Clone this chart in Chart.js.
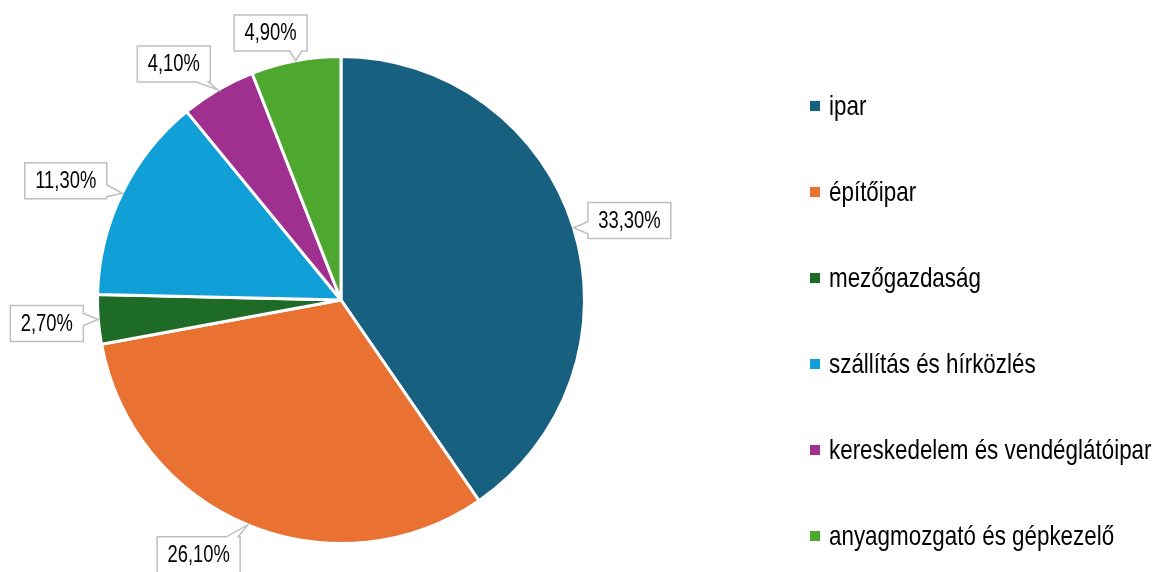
<!DOCTYPE html>
<html>
<head>
<meta charset="utf-8">
<script src="https://cdn.jsdelivr.net/npm/chart.js@4/dist/chart.umd.min.js"></script>
<style>
  body { margin: 0; background: #fff; }
</style>
</head>
<body>
<canvas id="grafikon" width="1161" height="572"></canvas>
<script>
const agazatok = ['ipar', 'építőipar', 'mezőgazdaság', 'szállítás és hírközlés', 'kereskedelem és vendéglátóipar', 'anyagmozgató és gépkezelő'];
const aranyok = [33.3, 26.1, 2.7, 11.3, 4.1, 4.9];
const szinek = ['#17607f', '#e97132', '#1e6b28', '#119fd8', '#a0308f', '#4ea72e'];

// cimkek elcsusztatasa (Excel-szeru elhelyezes)
const cimkeTolas = [[0, 10], [-36, -2], [0, 0], [-6, 12], [-26, 5], [-19, 5]];

const BETU = '"Liberation Sans", Arial, sans-serif';
const SZUKITES = 0.8; // keskeny betu utanzasa

const szazalek = v => v.toFixed(2).replace('.', ',') + '%';

function keskenySzoveg(ctx, szoveg, x, y) {
  ctx.save();
  ctx.translate(x, y);
  ctx.scale(SZUKITES, 1);
  ctx.fillText(szoveg, 0, 0);
  ctx.restore();
}

function buborek(ctx, l, t, r, b, oldal, p, tx, ty) {
  const n = 6;
  ctx.beginPath();
  ctx.moveTo(l, t);
  if (oldal === 'top') { ctx.lineTo(p - n, t); ctx.lineTo(tx, ty); ctx.lineTo(p + n, t); }
  ctx.lineTo(r, t);
  if (oldal === 'right') { ctx.lineTo(r, p - n); ctx.lineTo(tx, ty); ctx.lineTo(r, p + n); }
  ctx.lineTo(r, b);
  if (oldal === 'bottom') { ctx.lineTo(p + n, b); ctx.lineTo(tx, ty); ctx.lineTo(p - n, b); }
  ctx.lineTo(l, b);
  if (oldal === 'left') { ctx.lineTo(l, p + n); ctx.lineTo(tx, ty); ctx.lineTo(l, p - n); }
  ctx.closePath();
  ctx.fill();
  ctx.stroke();
}

const cimkePlugin = {
  id: 'cimkek',
  afterDatasetsDraw(chart) {
    const ctx = chart.ctx;
    const meta = chart.getDatasetMeta(0);
    ctx.save();
    ctx.font = '23px ' + BETU;
    ctx.textAlign = 'center';
    ctx.textBaseline = 'middle';
    ctx.lineWidth = 1.5;
    ctx.strokeStyle = '#bfbfbf';
    meta.data.forEach((arc, i) => {
      const { x, y, outerRadius, startAngle, endAngle } = arc.getProps(['x', 'y', 'outerRadius', 'startAngle', 'endAngle'], true);
      const kozep = (startAngle + endAngle) / 2;
      const ux = Math.cos(kozep), uy = Math.sin(kozep);
      const tx = x + ux * outerRadius, ty = y + uy * outerRadius;
      const szoveg = szazalek(aranyok[i]);
      const w = Math.round(ctx.measureText(szoveg).width * SZUKITES) + 21;
      const h = 36;
      const t = Math.min(ux ? w / 2 / Math.abs(ux) : 1e9, uy ? h / 2 / Math.abs(uy) : 1e9);
      const cx = x + ux * (outerRadius + 15 + t) + cimkeTolas[i][0];
      const cy = y + uy * (outerRadius + 15 + t) + cimkeTolas[i][1];
      const l = cx - w / 2, r = cx + w / 2, tp = cy - h / 2, b = cy + h / 2;
      const dx = tx - cx, dy = ty - cy;
      let oldal, p;
      if (Math.abs(dx) / (w / 2) > Math.abs(dy) / (h / 2)) {
        oldal = dx < 0 ? 'left' : 'right';
        p = Math.min(Math.max(ty, tp + 8), b - 8);
      } else {
        oldal = dy < 0 ? 'top' : 'bottom';
        p = Math.min(Math.max(tx, l + 8), r - 8);
      }
      ctx.fillStyle = '#fff';
      buborek(ctx, l, tp, r, b, oldal, p, tx, ty);
      ctx.fillStyle = '#000';
      keskenySzoveg(ctx, szoveg, cx, cy + 1);
    });
    ctx.restore();
  }
};

const jelmagyarazat = {
  id: 'jelmagyarazat',
  afterDraw(chart) {
    const ctx = chart.ctx;
    ctx.save();
    ctx.font = '28px ' + BETU;
    ctx.textBaseline = 'middle';
    agazatok.forEach((nev, i) => {
      const yy = 106 + i * 86;
      ctx.fillStyle = szinek[i];
      ctx.fillRect(810, yy - 5, 10, 10);
      ctx.fillStyle = '#000';
      keskenySzoveg(ctx, nev, 829, yy + 1);
    });
    ctx.restore();
  }
};

new Chart(document.getElementById('grafikon').getContext('2d'), {
  type: 'pie',
  data: {
    labels: agazatok,
    datasets: [{
      data: aranyok,
      backgroundColor: szinek,
      borderColor: '#fff',
      borderWidth: 3
    }]
  },
  options: {
    responsive: false,
    animation: false,
    layout: { padding: { left: 96, right: 575, top: 55, bottom: 27 } },
    plugins: {
      legend: { display: false },
      tooltip: { enabled: false }
    }
  },
  plugins: [cimkePlugin, jelmagyarazat]
});
</script>
</body>
</html>
